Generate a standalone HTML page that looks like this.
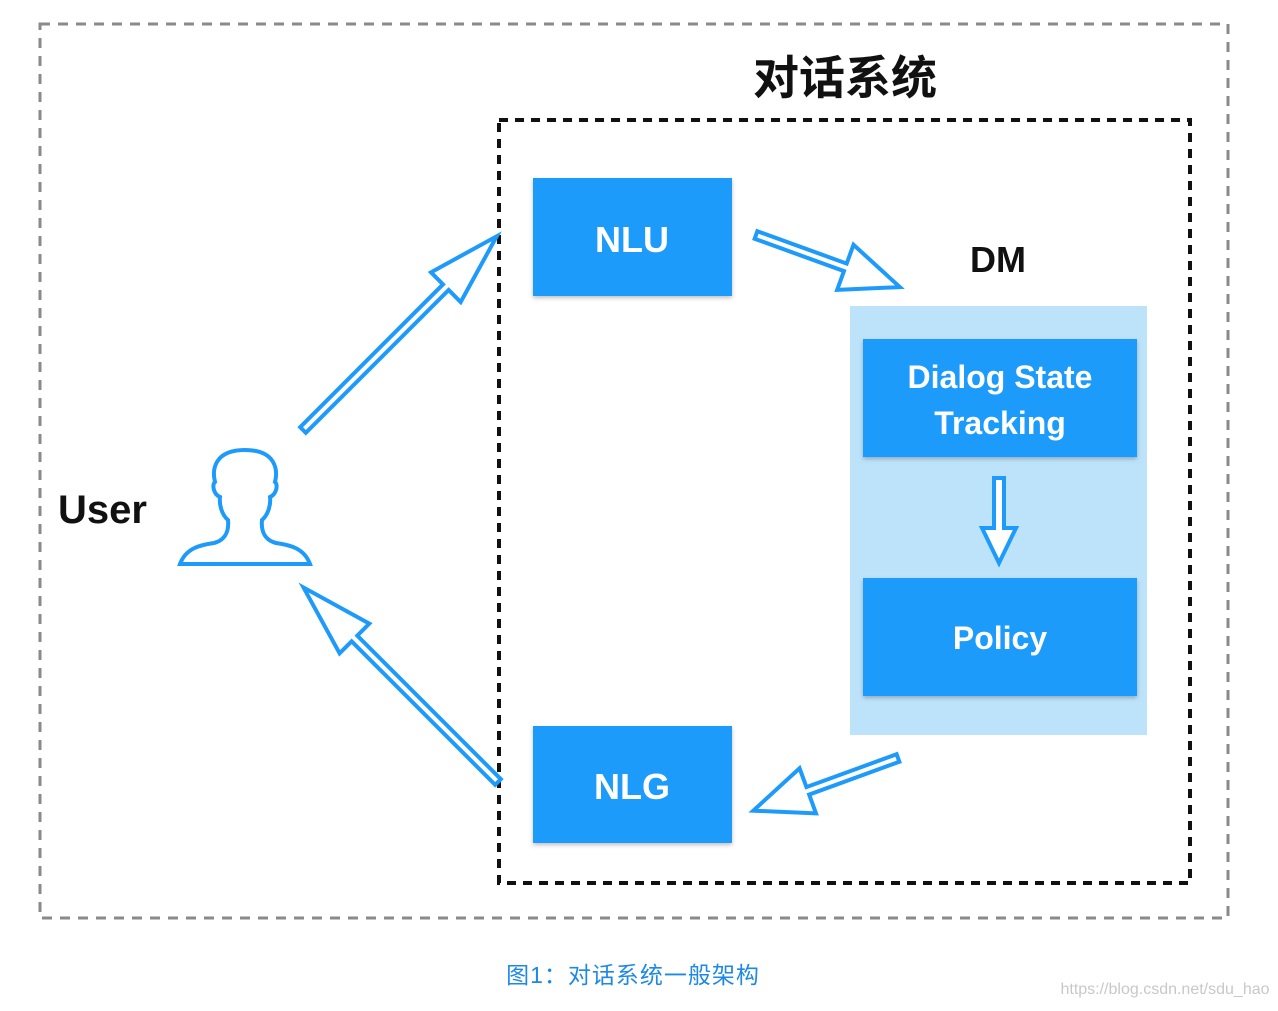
<!DOCTYPE html>
<html><head><meta charset="utf-8"><style>
body{margin:0;background:#fff;width:1278px;height:1006px;overflow:hidden}
</style></head><body>
<svg width="1278" height="1006" xmlns="http://www.w3.org/2000/svg" font-family="'Liberation Sans','Noto Sans CJK SC',sans-serif">
<defs>
<filter id="sh" x="-10%" y="-10%" width="130%" height="130%"><feDropShadow dx="0" dy="2" stdDeviation="2" flood-color="#000" flood-opacity="0.25"/></filter>
</defs>
<rect x="40" y="24" width="1188" height="894" fill="none" stroke="#8a8a8a" stroke-width="3" stroke-dasharray="10,8"/>
<text x="845" y="94" font-size="46" font-weight="bold" text-anchor="middle" fill="#111">对话系统</text>
<rect x="499" y="120" width="691" height="763" fill="none" stroke="#111" stroke-width="4" stroke-dasharray="9,7"/>
<rect x="850" y="306" width="297" height="429" fill="#bde3fb"/>
<g fill="#1e9bfa" filter="url(#sh)">
<rect x="533" y="178" width="199" height="118"/>
<rect x="863" y="339" width="274" height="118"/>
<rect x="863" y="578" width="274" height="118"/>
<rect x="533" y="726" width="199" height="117"/>
</g>
<g fill="#fff" font-weight="bold" text-anchor="middle">
<text x="632" y="252" font-size="36">NLU</text>
<text x="632" y="799" font-size="36">NLG</text>
<text x="1000" y="388" font-size="32">Dialog State</text>
<text x="1000" y="434" font-size="32">Tracking</text>
<text x="1000" y="649" font-size="32">Policy</text>
</g>
<text x="998" y="272" font-size="36" font-weight="bold" text-anchor="middle" fill="#111">DM</text>
<text x="58" y="523" font-size="40" font-weight="bold" fill="#111">User</text>
<g fill="#fff" stroke="#1e9bfa" stroke-width="4" stroke-linejoin="miter">
<path transform="translate(303,430) rotate(-45)" d="M0,-4 L202,-4 L202,-21 L274,0 L202,21 L202,4 L0,4 Z"/>
<path transform="translate(756,235) rotate(19.9)" d="M0,-4 L95,-4 L95,-24 L153,0 L95,24 L95,4 L0,4 Z"/>
<path transform="translate(898,758) rotate(160)" d="M0,-4 L96,-4 L96,-24 L154,0 L96,24 L96,4 L0,4 Z"/>
<path transform="translate(498,782) rotate(-135)" d="M0,-4 L203,-4 L203,-21 L275,0 L203,21 L203,4 L0,4 Z"/>
<path transform="translate(999,478) rotate(90)" d="M0,-5 L50,-5 L50,-17 L85,0 L50,17 L50,5 L0,5 Z"/>
<path d="M180,564 C186,548 200,545 214,543 C226,540 229,530 228,520 C222,515 219,505 220,497 C213,494 212,484 215,482 C212,470 214,450 245,450 C276,450 278,470 275,482 C278,484 277,494 270,497 C271,505 268,515 262,520 C261,530 264,540 276,543 C290,545 304,548 310,564 Z"/>
</g>
<text x="633" y="983" font-size="23" letter-spacing="1" text-anchor="middle" fill="#1e88e5">图1：对话系统一般架构</text>
<text x="1165" y="994" font-size="16" text-anchor="middle" fill="#c8c8c8">https://blog.csdn.net/sdu_hao</text>
</svg>
</body></html>
